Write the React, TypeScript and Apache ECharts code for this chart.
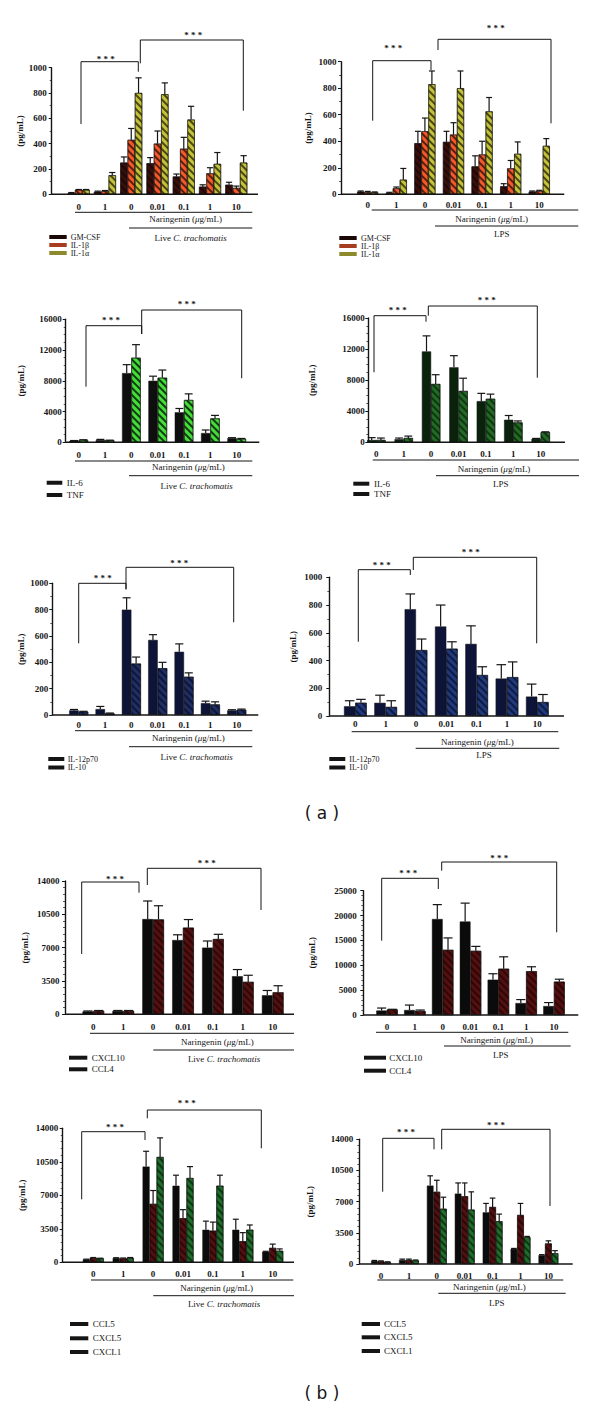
import React, { useEffect, useRef } from "react";
import * as echarts from "echarts";

// ---------- categories ----------
const doses = ["0", "1", "0", "0.01", "0.1", "1", "10"];

// ---------- (a) row 1 : GM-CSF / IL-1β / IL-1α ----------
const ctGMCSF = [10, 20, 250, 245, 140, 60, 75];
const ctGMCSFUp = [14, 25, 295, 290, 160, 75, 95];
const ctIL1b = [35, 25, 430, 400, 360, 165, 50];
const ctIL1bUp = [38, 30, 520, 500, 450, 210, 65];
const ctIL1a = [35, 150, 800, 790, 590, 240, 250];
const ctIL1aUp = [38, 172, 920, 880, 695, 330, 305];

const lpsGMCSF = [20, 10, 385, 395, 210, 60, 20];
const lpsGMCSFUp = [25, 15, 475, 475, 290, 80, 25];
const lpsIL1b = [15, 45, 475, 450, 300, 195, 25];
const lpsIL1bUp = [22, 55, 575, 540, 400, 255, 30];
const lpsIL1a = [15, 110, 830, 800, 625, 305, 365];
const lpsIL1aUp = [18, 195, 930, 930, 730, 395, 420];

// ---------- (a) row 2 : IL-6 / TNF ----------
const ctIL6 = [200, 300, 9000, 8000, 3900, 1200, 550];
const ctIL6Up = [230, 380, 10100, 8600, 4400, 1600, 600];
const ctTNF = [300, 250, 11000, 8400, 5500, 3100, 450];
const ctTNFUp = [330, 280, 12700, 9400, 6300, 3500, 500];

const lpsIL6 = [300, 400, 11700, 9650, 5300, 2900, 450];
const lpsIL6Up = [600, 550, 13700, 11150, 6300, 3450, 500];
const lpsTNF = [300, 550, 7500, 6600, 5600, 2550, 1300];
const lpsTNFUp = [550, 800, 8700, 8250, 6200, 2750, 1350];

// ---------- (a) row 3 : IL-12p70 / IL-10 ----------
const ctIL12 = [35, 45, 800, 570, 480, 90, 35];
const ctIL12Up = [42, 65, 890, 610, 540, 105, 40];
const ctIL10 = [25, 12, 390, 355, 290, 80, 40];
const ctIL10Up = [28, 15, 440, 400, 320, 100, 45];

const lpsIL12 = [70, 95, 770, 645, 520, 270, 140];
const lpsIL12Up = [110, 150, 880, 800, 650, 370, 230];
const lpsIL10 = [95, 65, 475, 485, 295, 280, 100];
const lpsIL10Up = [120, 110, 555, 535, 355, 390, 155];

// ---------- (b) row 1 : CXCL10 / CCL4 ----------
const ctCXCL10 = [300, 350, 10000, 7800, 7000, 4000, 2000];
const ctCXCL10Up = [350, 400, 11900, 8350, 7700, 4700, 2500];
const ctCCL4 = [350, 350, 9950, 9100, 7900, 3400, 2300];
const ctCCL4Up = [400, 400, 11400, 9950, 8400, 4100, 3000];

const lpsCXCL10 = [900, 1000, 19300, 18800, 7100, 2400, 1800];
const lpsCXCL10Up = [1400, 2000, 22200, 22500, 8300, 3100, 2500];
const lpsCCL4 = [1100, 800, 13100, 12900, 9300, 8800, 6700];
const lpsCCL4Up = [1150, 1000, 15500, 13800, 11700, 9700, 7200];

// ---------- (b) row 2 : CCL5 / CXCL5 / CXCL1 ----------
const ctCCL5 = [300, 450, 10000, 8000, 3400, 3400, 1100];
const ctCCL5Up = [330, 480, 11600, 9100, 4300, 4500, 1150];
const ctCXCL5 = [450, 400, 6100, 4600, 3300, 2200, 1500];
const ctCXCL5Up = [500, 450, 7500, 5500, 4200, 3100, 1900];
const ctCXCL1 = [400, 450, 11000, 8800, 8000, 3400, 1200];
const ctCXCL1Up = [430, 500, 13000, 10000, 9100, 3900, 1400];

const lpsCCL5 = [350, 450, 8800, 7900, 5800, 1700, 1000];
const lpsCCL5Up = [400, 550, 9900, 9100, 6800, 1750, 1050];
const lpsCXCL5 = [300, 450, 8100, 7600, 6400, 5500, 2300];
const lpsCXCL5Up = [350, 550, 9400, 9100, 7400, 6800, 2600];
const lpsCXCL1 = [200, 400, 6200, 6100, 4800, 3000, 1200];
const lpsCXCL1Up = [250, 450, 7500, 8100, 5600, 3100, 1500];

// ---------- texts ----------
const yTitle = "(pg/mL)";
const doseTitle = "Naringenin ({i|μ}g/mL)";
const ctTitle = "Live {i|C. trachomatis}";
const lpsTitle = "LPS";
const starText = "* * *";
const figA = "( a )";
const figB = "( b )";

const SERIF = '"Liberation Serif", "Times New Roman", serif';
const INK = "#151515";

type Cyto = { name: string; mean: number[]; upper: number[]; color: string; hatch?: string; swatch: string };

const gmColor = "#3a0e0b";
const il1bColor = "#f2592c";
const il1aColor = "#c4c23a";

const row1 = (ct: boolean): Cyto[] => [
  { name: "GM-CSF", mean: ct ? ctGMCSF : lpsGMCSF, upper: ct ? ctGMCSFUp : lpsGMCSFUp, color: gmColor, hatch: "rgba(0,0,0,0.45)", swatch: "#1a0806" },
  { name: "IL-1β", mean: ct ? ctIL1b : lpsIL1b, upper: ct ? ctIL1bUp : lpsIL1bUp, color: il1bColor, hatch: "rgba(40,10,0,0.75)", swatch: "#a63c20" },
  { name: "IL-1α", mean: ct ? ctIL1a : lpsIL1a, upper: ct ? ctIL1aUp : lpsIL1aUp, color: il1aColor, hatch: "rgba(30,30,0,0.75)", swatch: "#8c8a2a" },
];

const panels: any[] = [
  {
    ct: true, max: 1000, interval: 200, minor: 2, cytos: row1(true),
    L: { axisX: 51.7, c0: 78.7, sp: 26.27, y0: 194.3, yTop: 67.7, axisEnd: 258, labelY: 207, nameX: 26, lg: 5,
      line1: [75, 252.3, 212.3], nar: [185.7, 219.3], line2: [129, 252.3, 228], cond: [190.7, 237.7],
      leg: { sx: [49.3, 66.7], tx: 70.7, ys: [237, 245, 253] }, barW: 7.3,
      br: [[81, 124, 61.7, 138.3, 71.7, 105.7, 56.7], [140.3, 63.3, 40, 243.3, 110.7, 193.3, 33.3]] },
  },
  {
    ct: false, max: 1000, interval: 200, minor: 2, cytos: row1(false),
    L: { axisX: 341, c0: 367.7, sp: 28.6, y0: 194.3, yTop: 61.7, axisEnd: 564.3, labelY: 205.7, nameX: 312.7, lg: 4.5,
      line1: [371.7, 578.3, 210], nar: [491.7, 218.7], line2: [435, 578.3, 226], cond: [501.7, 234.3],
      leg: { sx: [339.3, 356.7], tx: 361, ys: [238, 246, 254] }, barW: 7,
      br: [[372.7, 120.7, 60.7, 431, 70, 393.3, 45.7], [438, 50, 39.3, 551, 123.3, 495.7, 25.7]] },
  },
  {
    ct: true, max: 16000, interval: 4000, minor: 4,
    cytos: [
      { name: "IL-6", mean: ctIL6, upper: ctIL6Up, color: "#0e0e0e", swatch: INK },
      { name: "TNF", mean: ctTNF, upper: ctTNFUp, color: "#45dc3c", hatch: "rgba(0,20,0,0.8)", swatch: INK },
    ],
    L: { axisX: 65.7, c0: 78.7, sp: 26.33, y0: 442.3, yTop: 319.3, axisEnd: 259.3, labelY: 455, nameX: 25, lg: 4,
      line1: [75, 252.3, 461], nar: [188.3, 467.3], line2: [129, 252.3, 475.7], cond: [196.7, 485.7],
      leg: { sx: [46.7, 62.3], tx: 66.7, ys: [482.7, 495] }, barW: 9.3,
      br: [[86, 386.7, 325.7, 141.7, 334, 111, 318.3], [141.7, 334, 310, 241.7, 378.3, 186.7, 302.3]] },
  },
  {
    ct: false, max: 16000, interval: 4000, minor: 4,
    cytos: [
      { name: "IL-6", mean: lpsIL6, upper: lpsIL6Up, color: "#0a220c", swatch: INK },
      { name: "TNF", mean: lpsTNF, upper: lpsTNFUp, color: "#236a26", hatch: "rgba(0,20,0,0.6)", swatch: INK },
    ],
    L: { axisX: 368.3, c0: 376.3, sp: 27.4, y0: 442.3, yTop: 318, axisEnd: 565, labelY: 454.3, nameX: 316, lg: 3.5,
      line1: [372.7, 579, 460], nar: [494, 469], line2: [436, 579, 475.7], cond: [500.7, 483.7],
      leg: { sx: [353.3, 369.3], tx: 374, ys: [483.7, 494] }, barW: 9.2,
      br: [[374, 372.3, 315.7, 426, 321.7, 397.7, 307.7], [428.3, 315.7, 306, 537.3, 377.7, 486.7, 298.3]] },
  },
  {
    ct: true, max: 1000, interval: 200, minor: 2,
    cytos: [
      { name: "IL-12p70", mean: ctIL12, upper: ctIL12Up, color: "#0d1438", swatch: INK },
      { name: "IL-10", mean: ctIL10, upper: ctIL10Up, color: "#1f2f66", hatch: "rgba(0,0,20,0.55)", swatch: INK },
    ],
    L: { axisX: 52.3, c0: 78.7, sp: 26.33, y0: 715, yTop: 583.3, axisEnd: 258.3, labelY: 725.7, nameX: 25, lg: 4,
      line1: [75, 252.3, 730.7], nar: [188.3, 738.3], line2: [129, 252.3, 746.7], cond: [196.7, 756.7],
      leg: { sx: [48.3, 64.3], tx: 67.7, ys: [759, 767.5] }, barW: 9.5,
      br: [[78.7, 643.3, 583.3, 126, 589.3, 102.7, 576], [126, 589.3, 567.3, 233.7, 622.3, 179.3, 560.7]] },
  },
  {
    ct: false, max: 1000, interval: 200, minor: 2,
    cytos: [
      { name: "IL-12p70", mean: lpsIL12, upper: lpsIL12Up, color: "#0d1438", swatch: INK },
      { name: "IL-10", mean: lpsIL10, upper: lpsIL10Up, color: "#213a7c", hatch: "rgba(0,0,20,0.55)", swatch: INK },
    ],
    L: { axisX: 329.3, c0: 355.3, sp: 30.33, y0: 716, yTop: 577.3, axisEnd: 564, labelY: 724.7, nameX: 297, lg: 7,
      line1: [351.7, 558.3, 731.7], nar: [477.3, 741.7], line2: [415.7, 559.3, 748.3], cond: [484, 755.3],
      leg: { sx: [329.3, 345.3], tx: 349.3, ys: [759, 767.5] }, barW: 11.3,
      br: [[358.3, 641.7, 569.7, 410.3, 575, 381.7, 562.7], [413.3, 570, 557.3, 536.7, 643.3, 470.7, 550]] },
  },
  {
    ct: true, max: 14000, interval: 3500, minor: 5,
    cytos: [
      { name: "CXCL10", mean: ctCXCL10, upper: ctCXCL10Up, color: "#0b0b0b", swatch: INK },
      { name: "CCL4", mean: ctCCL4, upper: ctCCL4Up, color: "#541010", hatch: "rgba(20,0,0,0.6)", swatch: INK },
    ],
    L: { axisX: 65, c0: 93.3, sp: 29.9, y0: 1014.3, yTop: 881, axisEnd: 294, labelY: 1027.3, nameX: 29.3, lg: 5.5,
      line1: [90, 294, 1033.3], nar: [217.3, 1042], line2: [153.3, 294, 1050], cond: [224, 1059],
      leg: { sx: [69, 87.3], tx: 91.7, ys: [1057.7, 1069.3] }, barW: 10.8,
      br: [[81.7, 954, 882, 139, 892.7, 115, 877], [147.3, 885, 868.3, 261, 910, 206.7, 861]] },
  },
  {
    ct: false, max: 25000, interval: 5000, minor: 5,
    cytos: [
      { name: "CXCL10", mean: lpsCXCL10, upper: lpsCXCL10Up, color: "#0b0b0b", swatch: INK },
      { name: "CCL4", mean: lpsCCL4, upper: lpsCCL4Up, color: "#541010", hatch: "rgba(20,0,0,0.6)", swatch: INK },
    ],
    L: { axisX: 363.3, c0: 387, sp: 27.83, y0: 1015, yTop: 890.7, axisEnd: 578.3, labelY: 1027.3, nameX: 316, lg: 6.5,
      line1: [376, 568.3, 1032.3], nar: [496.7, 1040], line2: [444, 570.7, 1046], cond: [500.7, 1055],
      leg: { sx: [364, 386], tx: 389.3, ys: [1057.7, 1070.7] }, barW: 10.7,
      br: [[381.7, 940.7, 878.3, 438.3, 889, 408.3, 870.7], [441.7, 870.7, 862, 556.7, 932.3, 499.3, 855.7]] },
  },
  {
    ct: true, max: 14000, interval: 3500, minor: 5,
    cytos: [
      { name: "CCL5", mean: ctCCL5, upper: ctCCL5Up, color: "#0b0b0b", swatch: INK },
      { name: "CXCL5", mean: ctCXCL5, upper: ctCXCL5Up, color: "#541010", hatch: "rgba(20,0,0,0.6)", swatch: INK },
      { name: "CXCL1", mean: ctCXCL1, upper: ctCXCL1Up, color: "#1f6e2c", hatch: "rgba(0,20,0,0.6)", swatch: INK },
    ],
    L: { axisX: 62.7, c0: 93.3, sp: 29.9, y0: 1262.3, yTop: 1128.3, axisEnd: 294, labelY: 1274.3, nameX: 26, lg: 4.5,
      line1: [91, 293.3, 1280], nar: [216.7, 1288], line2: [153.3, 294, 1295.7], cond: [224, 1304],
      leg: { sx: [70, 88.3], tx: 92.7, ys: [1324, 1338.3, 1352] }, barW: 7,
      br: [[81.7, 1199.3, 1131.7, 145, 1140, 115, 1125], [147.3, 1118.3, 1110, 261.3, 1148.3, 186.7, 1101]] },
  },
  {
    ct: false, max: 14000, interval: 3500, minor: 5,
    cytos: [
      { name: "CCL5", mean: lpsCCL5, upper: lpsCCL5Up, color: "#0b0b0b", swatch: INK },
      { name: "CXCL5", mean: lpsCXCL5, upper: lpsCXCL5Up, color: "#541010", hatch: "rgba(20,0,0,0.6)", swatch: INK },
      { name: "CXCL1", mean: lpsCXCL1, upper: lpsCXCL1Up, color: "#1f6e2c", hatch: "rgba(0,20,0,0.6)", swatch: INK },
    ],
    L: { axisX: 359.3, c0: 381, sp: 27.9, y0: 1264, yTop: 1139.3, axisEnd: 572.7, labelY: 1276.7, nameX: 314, lg: 6,
      line1: [377.3, 563.3, 1280], nar: [489.3, 1286.7], line2: [438.3, 565.7, 1293.3], cond: [496.7, 1303.3],
      leg: { sx: [361.7, 380], tx: 384, ys: [1324, 1337.3, 1351] }, barW: 6.6,
      br: [[382.7, 1191.7, 1138.3, 434, 1149.3, 406, 1130], [441.7, 1149.3, 1129.3, 550, 1206, 496, 1122.7]] },
  },
];

function hatchDecal(color: string) {
  return {
    symbol: "rect",
    symbolSize: 1,
    dashArrayX: [1, 0],
    dashArrayY: [1.3, 2.2],
    rotation: Math.PI / 4,
    color,
  };
}

function errRender(offset: number, capW: number) {
  return (_params: any, api: any) => {
    const i = api.value(0);
    const top = api.coord([i, api.value(2)]);
    const base = api.coord([i, api.value(1)]);
    const x = top[0] + offset;
    return {
      type: "group",
      children: [
        { type: "line", shape: { x1: x, y1: base[1], x2: x, y2: top[1] }, style: { stroke: INK, lineWidth: 1.2 } },
        { type: "line", shape: { x1: x - capW / 2, y1: top[1], x2: x + capW / 2, y2: top[1] }, style: { stroke: INK, lineWidth: 1.2 } },
      ],
    };
  };
}

const ln = (x1: number, y1: number, x2: number, y2: number, w = 1) => ({
  type: "line",
  silent: true,
  z: 10,
  shape: { x1, y1, x2, y2 },
  style: { stroke: INK, lineWidth: w },
});

const txt = (x: number, y: number, text: string, extra: any = {}) => ({
  type: "text",
  silent: true,
  z: 10,
  x,
  y,
  style: {
    text,
    fill: INK,
    fontFamily: SERIF,
    fontSize: 9,
    align: "center",
    verticalAlign: "middle",
    rich: { i: { fontFamily: SERIF, fontSize: 9, fontStyle: "italic", fill: INK } },
    ...extra,
  },
});

function buildOption() {
  const grid: any[] = [];
  const xAxis: any[] = [];
  const yAxis: any[] = [];
  const series: any[] = [];
  const graphic: any[] = [];

  panels.forEach((p, pi) => {
    const L = p.L;
    const gl = L.c0 - L.sp / 2;
    grid.push({ left: gl, top: L.yTop, width: L.sp * 7, height: L.y0 - L.yTop });
    xAxis.push({
      type: "category",
      gridIndex: pi,
      data: doses,
      axisLine: { show: false },
      axisTick: { show: false },
      splitLine: { show: false },
      axisLabel: { interval: 0, margin: L.labelY - L.y0 - 5, fontFamily: SERIF, fontWeight: "bold", fontSize: 9, color: INK },
    });
    yAxis.push({
      type: "value",
      gridIndex: pi,
      min: 0,
      max: p.max,
      interval: p.interval,
      offset: gl - L.axisX,
      name: yTitle,
      nameLocation: "middle",
      nameRotate: 90,
      nameGap: L.axisX - L.nameX,
      nameTextStyle: { fontFamily: SERIF, fontWeight: "bold", fontSize: 9, color: INK },
      axisLine: { show: true, lineStyle: { color: INK, width: 1.4 } },
      axisTick: { show: true, length: 3, lineStyle: { color: INK, width: 1 } },
      minorTick: { show: true, splitNumber: p.minor, length: 2, lineStyle: { color: INK, width: 0.7 } },
      splitLine: { show: false },
      minorSplitLine: { show: false },
      axisLabel: {
        margin: L.lg,
        fontFamily: SERIF,
        fontWeight: "bold",
        fontSize: 9,
        color: INK,
        formatter: (v: number) => String(v),
      },
    });
    const n = p.cytos.length;
    p.cytos.forEach((c: Cyto) => {
      const itemStyle: any = { color: c.color, borderColor: "#111", borderWidth: 0.5 };
      if (c.hatch) itemStyle.decal = hatchDecal(c.hatch);
      series.push({
        type: "bar",
        name: c.name,
        xAxisIndex: pi,
        yAxisIndex: pi,
        data: c.mean,
        barWidth: L.barW,
        barGap: "0%",
        itemStyle,
        silent: true,
      });
    });
    p.cytos.forEach((c: Cyto, k: number) => {
      const off = (k - (n - 1) / 2) * L.barW;
      series.push({
        type: "custom",
        xAxisIndex: pi,
        yAxisIndex: pi,
        z: 3,
        silent: true,
        data: c.mean.map((v, i) => [i, v, c.upper[i]]),
        encode: { x: 0, y: [1, 2] },
        renderItem: errRender(off, L.barW * 0.85),
      });
    });

    // x baseline
    graphic.push(ln(L.axisX, L.y0, L.axisEnd, L.y0, 1.6));
    // dose / condition annotations
    graphic.push(ln(L.line1[0], L.line1[2], L.line1[1], L.line1[2], 1));
    graphic.push(txt(L.nar[0], L.nar[1], doseTitle));
    graphic.push(ln(L.line2[0], L.line2[2], L.line2[1], L.line2[2], 1));
    graphic.push(txt(L.cond[0], L.cond[1], p.ct ? ctTitle : lpsTitle));
    // legend
    const legFont = n === 3 && L.leg.ys[1] - L.leg.ys[0] < 10 ? 8 : p.cytos[0].name === "IL-12p70" ? 8 : 9;
    p.cytos.forEach((c: Cyto, k: number) => {
      const y = L.leg.ys[k];
      graphic.push({
        type: "rect",
        silent: true,
        z: 10,
        shape: { x: L.leg.sx[0], y: y - 2, width: L.leg.sx[1] - L.leg.sx[0], height: 4 },
        style: { fill: c.swatch },
      });
      graphic.push(txt(L.leg.tx, y, c.name, { align: "left", fontSize: legFont }));
    });
    // significance brackets
    L.br.forEach((b: number[]) => {
      graphic.push({
        type: "polyline",
        silent: true,
        z: 10,
        shape: { points: [[b[0], b[1]], [b[0], b[2]], [b[3], b[2]], [b[3], b[4]]] },
        style: { stroke: INK, lineWidth: 1, fill: "none" },
      });
      graphic.push(txt(b[5], b[6] + 2, starText, { fontWeight: "bold", fontSize: 9 }));
    });
  });

  graphic.push(txt(322, 813, figA, { fontFamily: '"DejaVu Sans", sans-serif', fontSize: 17 }));
  graphic.push(txt(322, 1393, figB, { fontFamily: '"DejaVu Sans", sans-serif', fontSize: 17 }));

  return {
    animation: false,
    backgroundColor: "#ffffff",
    grid,
    xAxis,
    yAxis,
    series,
    graphic,
  };
}

export default function App() {
  const ref = useRef<HTMLDivElement>(null);
  useEffect(() => {
    if (!ref.current) return;
    const chart = echarts.init(ref.current, null, { renderer: "svg" });
    chart.setOption(buildOption() as any);
    return () => chart.dispose();
  }, []);
  return (
    <div
      ref={ref}
      style={{ position: "absolute", left: 0, top: 0, width: 600, height: 1409, background: "#fff" }}
    />
  );
}
